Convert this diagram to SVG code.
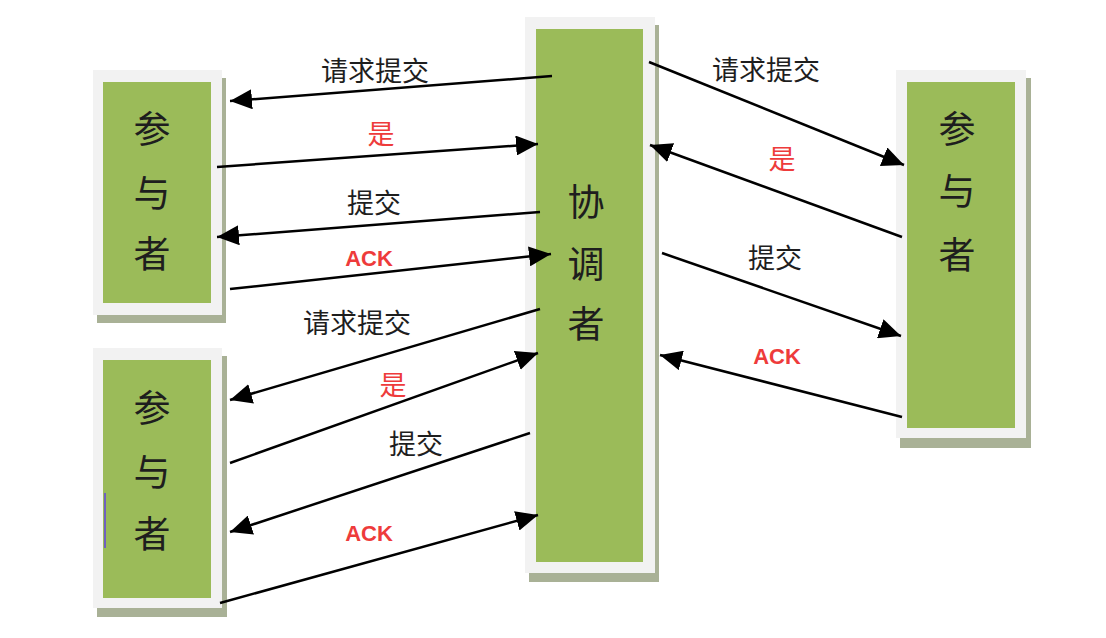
<svg xmlns="http://www.w3.org/2000/svg" width="1106" height="638" viewBox="0 0 1106 638">
<style>
.frame{fill:#f2f2f2}
.shadow{fill:#a9b196}
.box{fill:#9bbb59}
.nt{font-family:"Noto Sans CJK SC","Noto Sans",sans-serif;font-size:37px;fill:#1e1e1e;text-anchor:middle;dominant-baseline:central}
.lb{font-family:"Noto Sans CJK SC","Noto Sans",sans-serif;font-size:27px;fill:#1e1e1e;text-anchor:middle;dominant-baseline:central}
.red{fill:#ee3b3b}
.ack{font-family:"Liberation Sans",Arial,sans-serif;font-size:22px;font-weight:bold;fill:#ee3b3b;text-anchor:middle;dominant-baseline:central}
.conn line{stroke:#000;stroke-width:2.5;marker-end:url(#ah)}
</style>
<defs>
<marker id="ah" markerUnits="userSpaceOnUse" markerWidth="22" markerHeight="20" refX="22" refY="10" orient="auto">
<path d="M0,0 L22,10 L0,20 Z" fill="#000"/>
</marker>
</defs>
<rect width="1106" height="638" fill="#ffffff"/>

<g id="participant-top-left">
<rect class="shadow" x="97" y="78" width="129" height="245"/>
<rect class="frame" x="93" y="70" width="129" height="245"/>
<rect class="box" x="103" y="82" width="108" height="221"/>
<text class="nt" x="152" y="127">参</text>
<text class="nt" x="152" y="191">与</text>
<text class="nt" x="152" y="252">者</text>
</g>

<g id="participant-bottom-left">
<rect class="shadow" x="97" y="356" width="130" height="261"/>
<rect class="frame" x="93" y="348" width="129" height="260"/>
<rect class="box" x="103" y="360" width="108" height="238"/>
<line x1="105" y1="493" x2="105" y2="548" stroke="#7060c0" stroke-width="2"/>
<text class="nt" x="152" y="406">参</text>
<text class="nt" x="152" y="470">与</text>
<text class="nt" x="152" y="532">者</text>
</g>

<g id="coordinator">
<rect class="shadow" x="529" y="25" width="130" height="557"/>
<rect class="frame" x="525" y="17" width="130" height="556"/>
<rect class="box" x="536" y="29" width="107" height="533"/>
<text class="nt" x="586" y="200">协</text>
<text class="nt" x="586" y="262">调</text>
<text class="nt" x="586" y="322">者</text>
</g>

<g id="participant-right">
<rect class="shadow" x="900" y="78" width="131" height="370"/>
<rect class="frame" x="896" y="70" width="130" height="368"/>
<rect class="box" x="907" y="82" width="108" height="346"/>
<text class="nt" x="957" y="127">参</text>
<text class="nt" x="957" y="189">与</text>
<text class="nt" x="957" y="253">者</text>
</g>

<g id="connectors" class="conn">
<line x1="552" y1="76" x2="230" y2="101"/>
<line x1="217" y1="167" x2="538" y2="144"/>
<line x1="540" y1="212" x2="217" y2="237"/>
<line x1="230" y1="289" x2="551" y2="254"/>
<line x1="540" y1="309" x2="230" y2="400"/>
<line x1="230" y1="463" x2="538" y2="353"/>
<line x1="530" y1="433" x2="230" y2="532"/>
<line x1="220" y1="603" x2="538" y2="515"/>
<line x1="649" y1="62" x2="904" y2="165"/>
<line x1="902" y1="237" x2="650" y2="145"/>
<line x1="662" y1="253" x2="901" y2="336"/>
<line x1="902" y1="417" x2="660" y2="355"/>
</g>

<g id="labels">
<text class="lb" x="375" y="69">请求提交</text>
<text class="lb red" x="381" y="132">是</text>
<text class="lb" x="374" y="201">提交</text>
<text class="ack" x="369" y="258">ACK</text>
<text class="lb" x="357" y="321">请求提交</text>
<text class="lb red" x="393" y="383">是</text>
<text class="lb" x="416" y="442">提交</text>
<text class="ack" x="369" y="533">ACK</text>
<text class="lb" x="766" y="68">请求提交</text>
<text class="lb red" x="782" y="157">是</text>
<text class="lb" x="775" y="256">提交</text>
<text class="ack" x="777" y="356">ACK</text>
</g>
</svg>
